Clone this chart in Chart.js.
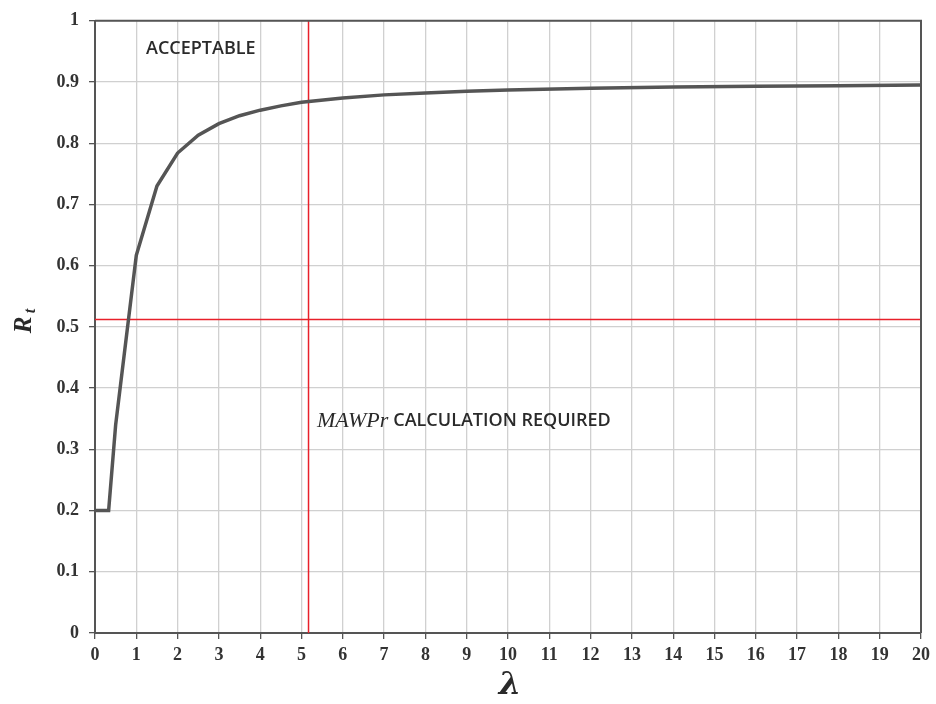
<!DOCTYPE html>
<html>
<head>
<meta charset="utf-8">
<script src="https://cdn.jsdelivr.net/npm/chart.js@4.4.1/dist/chart.umd.min.js"></script>
<style>
  html, body { margin: 0; padding: 0; background: #fff; }
  #wrap { width: 936px; height: 704px; position: relative; }
</style>
</head>
<body>
<div id="wrap"><canvas id="rtChart"></canvas></div>
<script>
// lambda values
const lambdaVals = [0, 0.33, 0.5, 1, 1.5, 2, 2.5, 3, 3.5, 4, 4.5, 5, 6, 7, 8, 9, 10, 12, 14, 16, 18, 20];
// Rt values
const rtVals = [0.2, 0.2, 0.34, 0.617, 0.73, 0.784, 0.813, 0.832, 0.845, 0.854, 0.861, 0.867, 0.874, 0.879, 0.882, 0.885, 0.887, 0.89, 0.892, 0.893, 0.894, 0.895];

// red limit lines
const lambdaLimit = 5.17;
const rtLimit = 0.512;

const xMin = 0, xMax = 20, yMin = 0, yMax = 1;

const curvePoints = lambdaVals.map((l, i) => ({ x: l, y: rtVals[i] }));

// text + frame drawn on top
const labelsPlugin = {
    id: 'labels',
    afterDraw(chart) {
        const c = chart.ctx;
        const a = chart.chartArea;
        c.save();
        // frame top/right
        c.strokeStyle = '#555';
        c.lineWidth = 2;
        c.beginPath();
        c.moveTo(a.left, a.top);
        c.lineTo(a.right, a.top);
        c.lineTo(a.right, a.bottom);
        c.stroke();

        c.fillStyle = '#2a2a2a';
        c.textBaseline = 'middle';
        c.textAlign = 'left';
        c.font = '600 18px "Open Sans", sans-serif';
        c.fillText('ACCEPTABLE', 146, 49);

        c.font = 'italic 22px "Liberation Serif", serif';
        c.fillText('MAWPr', 317, 421);
        const w = c.measureText('MAWPr').width + 5;
        c.font = '600 18px "Open Sans", sans-serif';
        c.fillText('CALCULATION REQUIRED', 317 + w, 421);

        // x title
        c.textAlign = 'center';
        c.font = 'bold italic 32px "DejaVu Serif", serif';
        c.fillText('\u03BB', 510, 686);

        // y title R_t
        c.translate(25, 322);
        c.rotate(-Math.PI / 2);
        c.font = 'bold italic 25px "Liberation Serif", serif';
        c.textAlign = 'center';
        c.fillText('R', -3, 0);
        c.font = 'bold italic 16px "Liberation Serif", serif';
        c.fillText('t', 11, 6);
        c.restore();
    }
};

const ctx = document.getElementById('rtChart').getContext('2d');
const rtChart = new Chart(ctx, {
    type: 'scatter',
    data: {
        datasets: [
            {
                label: 'Rt',
                data: curvePoints,
                showLine: true,
                borderColor: '#555555',
                borderWidth: 3.5,
                pointRadius: 0,
                tension: 0
            },
            {
                label: 'lambda limit',
                data: [{ x: lambdaLimit, y: yMin }, { x: lambdaLimit, y: yMax }],
                showLine: true,
                borderColor: '#e8202a',
                borderWidth: 1.5,
                pointRadius: 0
            },
            {
                label: 'Rt limit',
                data: [{ x: xMin, y: rtLimit }, { x: xMax, y: rtLimit }],
                showLine: true,
                borderColor: '#e8202a',
                borderWidth: 1.5,
                pointRadius: 0
            }
        ]
    },
    options: {
        responsive: true,
        maintainAspectRatio: false,
        animation: false,
        layout: { padding: { left: 0, right: 13, top: 19, bottom: 0 } },
        plugins: {
            legend: { display: false },
            tooltip: { enabled: false }
        },
        scales: {
            x: {
                type: 'linear',
                min: xMin,
                max: xMax,
                afterFit: (s) => { s.height = 71; },
                ticks: {
                    stepSize: 1,
                    padding: 6,
                    color: '#333',
                    font: { family: '"Liberation Serif", serif', size: 18, weight: 'bold' }
                },
                grid: { color: '#d0d0d0', lineWidth: 1.3, tickLength: 6, tickColor: '#555' },
                border: { color: '#555', width: 2 }
            },
            y: {
                type: 'linear',
                min: yMin,
                max: yMax,
                afterFit: (s) => { s.width = 95; },
                ticks: {
                    stepSize: 0.1,
                    padding: 10,
                    color: '#333',
                    font: { family: '"Liberation Serif", serif', size: 18, weight: 'bold' },
                    callback: (v) => Math.round(v * 10) / 10
                },
                grid: { color: '#d0d0d0', lineWidth: 1.3, tickLength: 6, tickColor: '#555' },
                border: { color: '#555', width: 2 }
            }
        }
    },
    plugins: [labelsPlugin]
});
</script>
</body>
</html>
